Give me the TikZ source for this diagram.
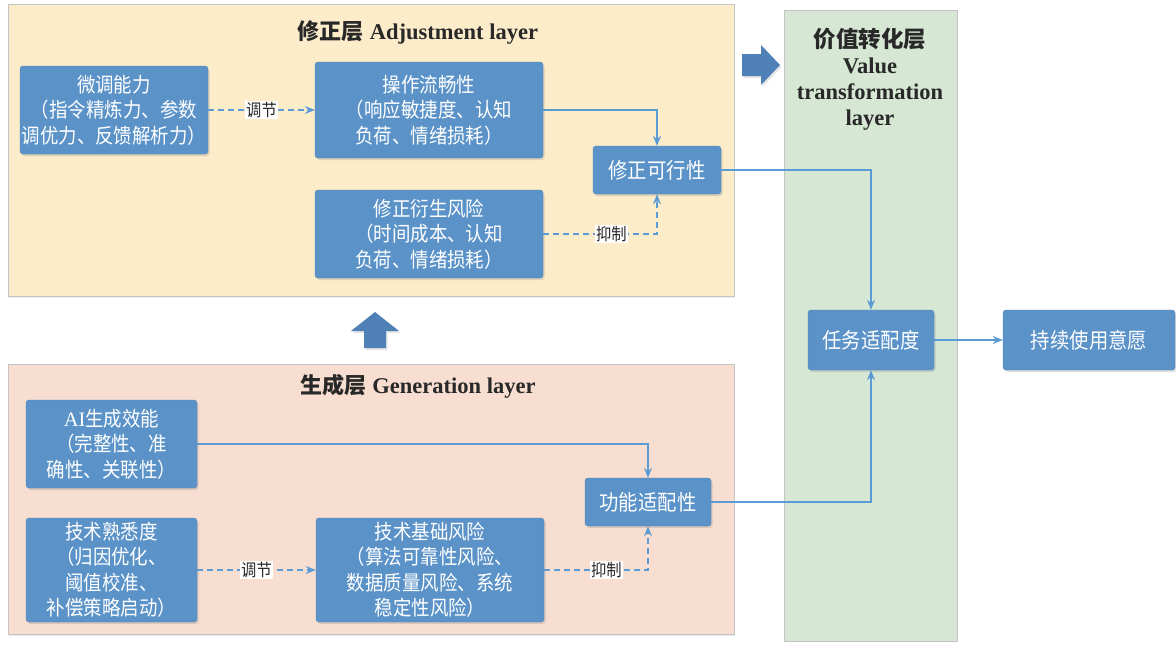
\documentclass[tikz,border=0pt]{standalone}
\usepackage{fontspec}
\setmainfont{Liberation Serif}
\newfontfamily\cjk[FakeStretch=0.9]{Noto Sans CJK SC}
\newfontfamily\cjkt{Noto Sans CJK SC}
\usetikzlibrary{shadows,arrows.meta,positioning}
\definecolor{boxblue}{RGB}{91,147,201}
\definecolor{boxedge}{RGB}{80,132,185}
\definecolor{linkblue}{RGB}{91,155,213}
\definecolor{arrowblue}{RGB}{79,129,183}
\definecolor{adjfill}{RGB}{252,236,202}
\definecolor{genfill}{RGB}{248,222,208}
\definecolor{valfill}{RGB}{214,232,212}
\definecolor{paneledge}{RGB}{196,196,196}
\definecolor{titlegray}{RGB}{40,40,40}
\tikzset{
  panel/.style={draw=paneledge, line width=0.8pt},
  bluebox/.style={rectangle, rounded corners=3pt, fill=boxblue, draw=boxedge, line width=0.4pt,
    text=white, align=center, inner sep=1pt, font=\cjk\fontsize{20.5}{25.5}\selectfont,
    drop shadow={opacity=0.25, shadow xshift=1.5pt, shadow yshift=-2pt}},
  smallbox/.style={bluebox, font=\cjk\fontsize{21.5}{24}\selectfont},
  conn/.style={draw=linkblue, line width=1.3pt, -{Stealth[length=10pt,width=8pt]}},
  dconn/.style={conn, dash pattern=on 6pt off 4pt},
  lbl/.style={fill=white, inner sep=1pt, text=titlegray, font=\cjk\fontsize{17}{18}\selectfont},
  ptitle/.style={text=titlegray, align=center},
  blockarrow/.style={fill=arrowblue, draw=none, drop shadow={opacity=0.2, shadow xshift=1.5pt, shadow yshift=-2pt}}
}
\begin{document}
\begin{tikzpicture}[x=1pt,y=-1pt]
\useasboundingbox (0,0) rectangle (1176,648);
% panels
\fill[white] (0,0) rectangle (1176,648);
\draw[panel, fill=adjfill, drop shadow={opacity=0.15, shadow xshift=1pt, shadow yshift=-2pt}] (8,4) rectangle (734,296);
\draw[panel, fill=genfill, drop shadow={opacity=0.15, shadow xshift=1pt, shadow yshift=-2pt}] (8,364) rectangle (734,634);
\draw[panel, fill=valfill] (784,10) rectangle (957,641);
% titles
\node[ptitle] (tadj) at (418,33) {{\cjkt\bfseries\fontsize{22}{24}\selectfont 修正层}\hspace{6pt}{\bfseries\fontsize{22.5}{24}\selectfont Adjustment layer}};
\node[ptitle] (tgen) at (418,386) {{\cjkt\bfseries\fontsize{22}{24}\selectfont 生成层}\hspace{6pt}{\bfseries\fontsize{22.5}{24}\selectfont Generation layer}};
\node[ptitle, font=\bfseries\fontsize{22.5}{26}\selectfont] (tval) at (870,79) {{\cjkt\bfseries\fontsize{22.5}{26}\selectfont 价值转化层}\\Value\\transformation\\layer};
% block arrows
\fill[blockarrow] (375,312) -- (399,331) -- (386,331) -- (386,348) -- (364,348) -- (364,331) -- (351,331) -- cycle;
\fill[blockarrow] (780,65) -- (761,45) -- (761,54) -- (742,54) -- (742,76) -- (761,76) -- (761,85) -- cycle;
% adjustment layer nodes
\node[bluebox, minimum width=188pt, minimum height=88pt] (wt) at (114,110) {微调能力\\（指令精炼力、参数\\调优力、反馈解析力）};
\node[bluebox, minimum width=228pt, minimum height=96pt] (cz) at (429,110) {操作流畅性\\（响应敏捷度、认知\\负荷、情绪损耗）};
\node[smallbox, minimum width=128pt, minimum height=48pt] (xz) at (657,170) {修正可行性};
\node[bluebox, minimum width=228pt, minimum height=88pt] (ys) at (429,234) {修正衍生风险\\（时间成本、认知\\负荷、情绪损耗）};
% generation layer nodes
\node[bluebox, minimum width=171pt, minimum height=88pt] (ai) at (111.5,444) {\textrm{AI}生成效能\\（完整性、准\\确性、关联性）};
\node[bluebox, minimum width=171pt, minimum height=104pt] (js) at (111.5,570) {技术熟悉度\\（归因优化、\\阈值校准、\\补偿策略启动）};
\node[bluebox, minimum width=228pt, minimum height=104pt] (jf) at (430,570) {技术基础风险\\（算法可靠性风险、\\数据质量风险、系统\\稳定性风险）};
\node[smallbox, minimum width=126pt, minimum height=48pt] (gn) at (648,502) {功能适配性};
% value layer nodes
\node[smallbox, minimum width=126pt, minimum height=60pt] (rw) at (871,340) {任务适配度};
\node[smallbox, minimum width=172pt, minimum height=60pt] (cx) at (1089,340) {持续使用意愿};
% connectors
\draw[dconn] (wt.east) -- node[lbl] {调节} (cz.west);
\draw[conn] (cz.east) -| (xz.north);
\draw[dconn] (ys.east) -| node[lbl, pos=0.3] {抑制} (xz.south);
\draw[conn] (ai.east) -| (gn.north);
\draw[dconn] (js.east) -- node[lbl] {调节} (jf.west);
\draw[dconn] (jf.east) -| node[lbl, pos=0.3] {抑制} (gn.south);
\draw[conn] (xz.east) -| (rw.north);
\draw[conn] (gn.east) -| (rw.south);
\draw[conn] (rw.east) -- (cx.west);
\end{tikzpicture}
\end{document}
